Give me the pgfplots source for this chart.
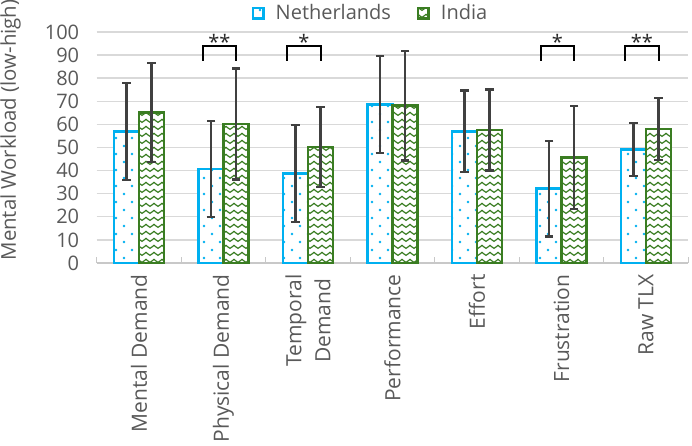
\documentclass[border=0pt]{standalone}
\usepackage{pgfplots}
\pgfplotsset{compat=1.18}
\usepackage{pgfplotstable}
\usepackage{fontspec}
\setmainfont{Open Sans}
\usetikzlibrary{patterns}
\definecolor{nlcyan}{HTML}{00B0F0}
\definecolor{ingreen}{HTML}{3A7D22}
\definecolor{txtgray}{HTML}{595959}
\definecolor{errgray}{HTML}{404040}
\definecolor{gridgray}{HTML}{D9D9D9}
\definecolor{axgray}{HTML}{C8C8C8}

\pgfdeclarepatternformonly{nldots}{\pgfpoint{-1pt}{-1pt}}{\pgfpoint{17pt}{17pt}}{\pgfpoint{16pt}{16pt}}{%
  \pgfpathcircle{\pgfpoint{4pt}{4pt}}{1.3pt}%
  \pgfpathcircle{\pgfpoint{12pt}{12pt}}{1.3pt}%
  \pgfusepath{fill}}
\pgfdeclarepatternformonly{inwaves}{\pgfpoint{-1pt}{-1pt}}{\pgfpoint{9pt}{8pt}}{\pgfpoint{8pt}{7pt}}{%
  \pgfsetlinewidth{1.2pt}%
  \pgfpathmoveto{\pgfpoint{0pt}{3pt}}%
  \pgfpathcurveto{\pgfpoint{1.2pt}{5.2pt}}{\pgfpoint{2.8pt}{5.2pt}}{\pgfpoint{4pt}{3pt}}%
  \pgfpathcurveto{\pgfpoint{5.2pt}{1.2pt}}{\pgfpoint{6.8pt}{1.2pt}}{\pgfpoint{8pt}{3pt}}%
  \pgfusepath{stroke}}

\pgfplotstableread{
x nl nlerr in inerr
0 57.0 21.0 65.2 21.5
1 40.7 20.7 60.2 24.0
2 38.7 21.0 50.2 17.3
3 68.7 21.0 68.1 23.7
4 57.0 17.7 57.6 17.5
5 32.2 20.7 45.7 22.2
6 49.1 11.5 58.0 13.3
}\datatable

\pgfplotsset{
  myerr/.style={
    error bars/.cd, y dir=both, y explicit,
    draw error bar/.code 2 args={%
      \draw[errgray, line width=2.6pt, solid] ##1 -- ##2
        node[pos=1, sloped, allow upside down, inner sep=0pt]
        {\tikz\draw[errgray, line width=2.4pt] (0pt,-4.3pt) -- (0pt,4.3pt);};%
    }%
  }
}

\begin{document}
\begin{tikzpicture}[font=\fontsize{20}{24}\selectfont, text=txtgray]
\useasboundingbox (-96.7pt,-183pt) rectangle (595.3pt,263pt);
\begin{axis}[
  at={(0pt,0pt)}, anchor=south west,
  scale only axis, width=591.6pt, height=231pt,
  xmin=-0.5, xmax=6.5, ymin=0, ymax=100,
  clip=false,
  axis x line*=bottom, axis y line*=left,
  x axis line style={axgray, line width=1.6pt, -},
  y axis line style={draw=none},
  tick align=inside,
  ytick={0,10,...,100},
  xtick={0,...,6},
  xticklabels={Mental Demand, Physical Demand, {Temporal\\Demand}, Performance, Effort, Frustration, Raw TLX},
  minor xtick={-0.5,0.5,...,6.5},
  major tick length=0pt,
  minor tick length=6pt,
  minor x tick style={axgray, line width=1.3pt},
  ymajorgrids,
  grid style={gridgray, line width=1.4pt},
  /pgf/number format/assume math mode=true,
  yticklabel style={font=\fontsize{20}{24}\selectfont, text=txtgray, xshift=-14pt},
  xticklabel style={yshift=-8pt, rotate=90, anchor=east, align=center, font=\fontsize{21}{29}\selectfont, text=txtgray},
  ylabel={Mental Workload (low-high)},
  every axis y label/.style={at={(axis description cs:-0.1454,0.5758)}, rotate=90, anchor=center, font=\fontsize{20.4}{24}\selectfont, text=txtgray},
  legend columns=2,
  legend style={at={(axis description cs:0.4628,1.0823)}, anchor=center, draw=none, fill=none,
    font=\fontsize{20}{24}\selectfont, text=txtgray, inner sep=0pt,
    /tikz/every even column/.append style={column sep=24pt}},
  legend image code/.code={\draw[#1, line width=2.4pt] (0.5pt,-5.5pt) rectangle (11pt,5pt); \path (20pt,0pt);},
]
\addplot[ybar, bar width=0.295, bar shift=0pt, draw=nlcyan, line width=2.6pt, fill=white,
  postaction={pattern=nldots, pattern color=nlcyan}]
  table[x expr=\thisrow{x}-0.1475, y=nl]{\datatable};
\addlegendentry{Netherlands}
\addplot[ybar, bar width=0.295, bar shift=0pt, draw=ingreen, line width=2.6pt, fill=white,
  postaction={pattern=inwaves, pattern color=ingreen}]
  table[x expr=\thisrow{x}+0.1475, y=in]{\datatable};
\addlegendentry{India}
\addplot[forget plot, draw=none, mark=none, myerr]
  table[x expr=\thisrow{x}-0.1475, y=nl, y error=nlerr]{\datatable};
\addplot[forget plot, draw=none, mark=none, myerr]
  table[x expr=\thisrow{x}+0.1475, y=in, y error=inerr]{\datatable};
\draw[black, line width=2.3pt] (axis cs:0.755,87.5) |- (axis cs:1.15,94) -- (axis cs:1.15,87.5);
\draw[black, line width=2.3pt] (axis cs:1.755,87.5) |- (axis cs:2.15,94) -- (axis cs:2.15,87.5);
\draw[black, line width=2.3pt] (axis cs:4.755,87.5) |- (axis cs:5.15,94) -- (axis cs:5.15,87.5);
\draw[black, line width=2.3pt] (axis cs:5.755,87.5) |- (axis cs:6.15,94) -- (axis cs:6.15,87.5);
\node[anchor=base, text=black!85, inner sep=0pt] at (axis cs:0.952,92.4) {**};
\node[anchor=base, text=black!85, inner sep=0pt] at (axis cs:1.952,92.4) {*};
\node[anchor=base, text=black!85, inner sep=0pt] at (axis cs:4.952,92.4) {*};
\node[anchor=base, text=black!85, inner sep=0pt] at (axis cs:5.952,92.4) {**};
\end{axis}
\end{tikzpicture}
\end{document}
